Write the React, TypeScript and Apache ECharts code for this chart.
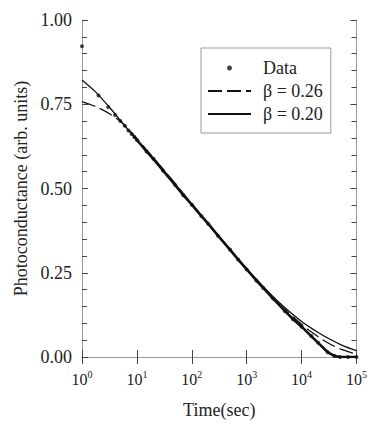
import React, { useEffect, useRef } from "react";
import * as echarts from "echarts";

const FONT = "serif";
const TEXT = "#222";
const USE_CUSTOM = false;
const USE_RICH = true;

const dataTime = [1, 2, 3, 4, 5, 6, 7, 8, 9, 10, 15, 20, 30, 50, 70, 100, 150, 200, 300, 500, 700, 1000, 1500, 2000, 3000, 5000, 7000, 10000, 15000, 20000, 30000, 40000, 50000, 70000, 100000];
const dataValue = [0.922, 0.776, 0.742, 0.718, 0.7, 0.686, 0.672, 0.662, 0.653, 0.644, 0.61, 0.588, 0.553, 0.51, 0.48, 0.452, 0.418, 0.395, 0.36, 0.318, 0.289, 0.26, 0.227, 0.205, 0.174, 0.136, 0.112, 0.09, 0.062, 0.042, 0.014, 0.003, 0.0, 0.0, 0.0];
const fitTime = [1, 1.778, 3.162, 5.623, 10, 31.62, 100, 316.2, 1000, 3162, 10000, 17783, 31623, 56234, 100000];
const fitBeta026 = [0.758, 0.743, 0.722, 0.692, 0.648, 0.553, 0.455, 0.356, 0.259, 0.17, 0.097, 0.066, 0.04, 0.021, 0.009];
const fitBeta020 = [0.822, 0.786, 0.741, 0.692, 0.643, 0.548, 0.452, 0.356, 0.262, 0.176, 0.105, 0.078, 0.054, 0.034, 0.019];
const yTickLabels = ["0.00", "0.25", "0.50", "0.75", "1.00"];
const legendNames = ["Data", "β = 0.26", "β = 0.20"];
const minorTicks: number[] = [];
for (let d = 1; d < 100000; d *= 10) for (let k = 2; k <= 9; k++) minorTicks.push(d * k);
const pairs = (xs: number[], ys: number[]) => xs.map((x, i) => [x, ys[i]]);

export default function App() {
  const ref = useRef<HTMLDivElement>(null);
  useEffect(() => {
    const chart = echarts.init(ref.current!, null, { renderer: "svg" });
    const axisLine = { show: true, lineStyle: { color: "#9a9a9a", width: 1 } };
    const hiddenSymbol = { color: "rgba(0,0,0,0)", borderColor: "rgba(0,0,0,0)", borderWidth: 0 };
    const series: any[] = [];
    if (USE_CUSTOM) {
      series.push({
        name: "minorTicks", type: "custom", silent: true, clip: false,
        data: minorTicks.map((t) => [t, 0]),
        renderItem: (_p: any, api: any) => {
          const t = api.value(0);
          const b = api.coord([t, 0]);
          const tp = api.coord([t, 1]);
          return { type: "group", children: [
            { type: "line", shape: { x1: b[0], y1: b[1], x2: b[0], y2: b[1] - 4 }, style: { stroke: "#444", lineWidth: 1 } },
            { type: "line", shape: { x1: tp[0], y1: tp[1], x2: tp[0], y2: tp[1] + 4 }, style: { stroke: "#444", lineWidth: 1 } },
          ] };
        },
      });
    }
    series.push(
      { name: "dataBand", type: "line", symbol: "none", silent: true, data: pairs(dataTime.slice(8), dataValue.slice(8)), lineStyle: { color: "#111", width: 2.6 }, z: 2 },
      { name: legendNames[0], type: "scatter", symbol: "circle", symbolSize: 4, data: pairs(dataTime, dataValue), itemStyle: { color: "#111" }, z: 3 },
      { name: legendNames[1], type: "line", symbol: "none", smooth: 0.3, data: pairs(fitTime, fitBeta026), itemStyle: { color: "#111" }, lineStyle: { color: "#111", width: 1.3, type: [14, 5] }, z: 4 },
      { name: legendNames[2], type: "line", symbol: "none", smooth: 0.3, data: pairs(fitTime, fitBeta020), itemStyle: { color: "#111" }, lineStyle: { color: "#111", width: 1.3 }, z: 4 }
    );
    chart.setOption({
      animation: false,
      grid: { left: 82, right: 11, top: 20, bottom: 62 },
      legend: {
        orient: "vertical", left: 201, top: 48, padding: [11, 8, 10, 6], itemGap: 5, itemWidth: 43, itemHeight: 5,
        borderColor: "#9a9a9a", borderWidth: 1, selectedMode: false,
        textStyle: { fontFamily: FONT, fontSize: 18, color: TEXT, padding: [0, 0, 0, 7] },
        data: [
          { name: legendNames[0], icon: "circle" },
          { name: legendNames[1], icon: "inherit", itemStyle: hiddenSymbol },
          { name: legendNames[2], icon: "inherit", itemStyle: hiddenSymbol },
        ],
      },
      xAxis: [
        {
          type: "log", logBase: 10, min: 1, max: 100000, splitNumber: 5, position: "bottom",
          name: "Time(sec)", nameLocation: "middle", nameGap: 44,
          nameTextStyle: { fontFamily: FONT, fontSize: 18, color: TEXT },
          axisLine, axisTick: { show: true, inside: true, length: 7, lineStyle: { color: "#444" } },
          axisLabel: USE_RICH ? {
            margin: 12, fontFamily: FONT,
            formatter: (v: number) => `{b|10}{s|${Math.round(Math.log10(v))}}`,
            rich: {
              b: { fontFamily: FONT, fontSize: 16, color: TEXT, lineHeight: 18, verticalAlign: "bottom" },
              s: { fontFamily: FONT, fontSize: 10, color: TEXT, lineHeight: 10, verticalAlign: "top" },
            },
          } : { margin: 12, fontFamily: FONT, fontSize: 16, color: TEXT },
          splitLine: { show: false },
        },
        {
          type: "log", logBase: 10, min: 1, max: 100000, splitNumber: 5, position: "top",
          axisLine, axisTick: { show: true, inside: true, length: 7, lineStyle: { color: "#444" } },
          axisLabel: { show: false }, splitLine: { show: false },
        },
      ],
      yAxis: [
        {
          type: "value", min: 0, max: 1, interval: 0.25,
          name: "Photoconductance (arb. units)", nameLocation: "middle", nameGap: 52,
          nameTextStyle: { fontFamily: FONT, fontSize: 18, color: TEXT },
          axisLine, axisTick: { show: true, inside: true, length: 6, lineStyle: { color: "#444" } },
          minorTick: { show: true, splitNumber: 5, length: 5, lineStyle: { color: "#444" } },
          axisLabel: { margin: 10, fontFamily: FONT, fontSize: 18, color: TEXT, formatter: (v: number) => yTickLabels[Math.round(v / 0.25)] },
          splitLine: { show: false },
        },
        {
          type: "value", min: 0, max: 1, interval: 0.25, position: "right",
          axisLine, axisTick: { show: true, inside: true, length: 6, lineStyle: { color: "#444" } },
          minorTick: { show: true, splitNumber: 5, length: 5, lineStyle: { color: "#444" } },
          axisLabel: { show: false }, splitLine: { show: false },
        },
      ],
      series,
    });
    return () => chart.dispose();
  }, []);
  return <div ref={ref} style={{ position: "fixed", left: 0, top: 0, width: 370, height: 424, background: "#fff" }} />;
}
